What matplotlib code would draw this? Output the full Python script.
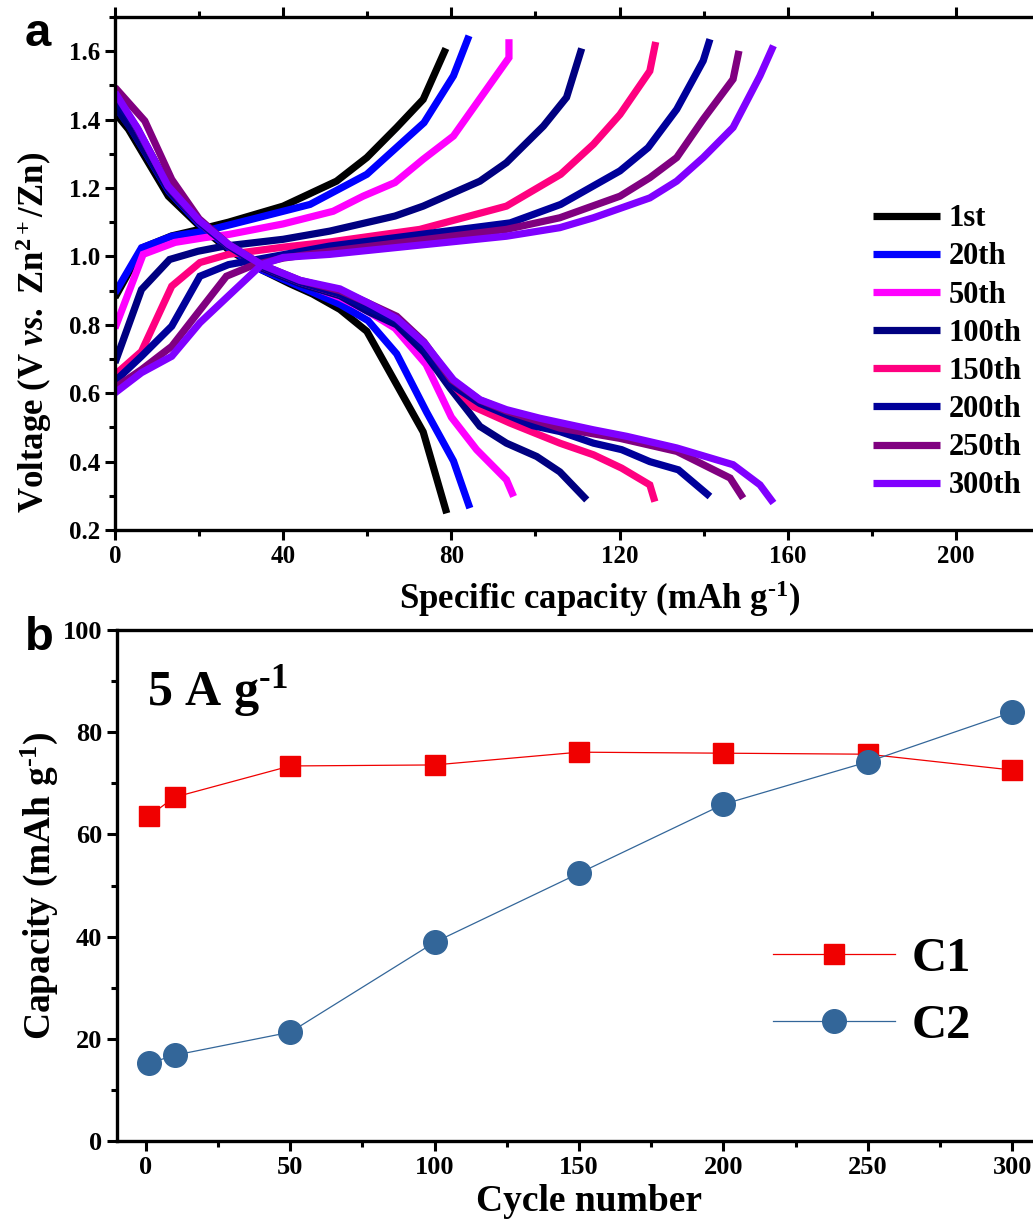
import numpy as np
import matplotlib
matplotlib.use('Agg')
import matplotlib.pyplot as plt
from matplotlib.ticker import MultipleLocator

plt.rcParams['font.family'] = ['Liberation Serif', 'DejaVu Serif']
plt.rcParams['font.weight'] = 'bold'
plt.rcParams['axes.labelweight'] = 'bold'
plt.rcParams['mathtext.fontset'] = 'custom'
plt.rcParams['mathtext.rm'] = 'Liberation Serif:bold'
plt.rcParams['mathtext.it'] = 'Liberation Serif:italic:bold'
plt.rcParams['mathtext.bf'] = 'Liberation Serif:bold'

# ---- panel a: charge / discharge curves ----
cycles = ['1st', '20th', '50th', '100th', '150th', '200th', '250th', '300th']
colors = ['#000000', '#0000ff', '#ff00ff', '#000080', '#ff0080', '#00009a', '#800080', '#8000ff']

cap_1st_chg = [0, 6.5, 13.5, 20.5, 27, 40, 52.7, 59.9, 67, 73.3, 78.7]
v_1st_chg = [0.88, 1.025, 1.06, 1.08, 1.1, 1.147, 1.22, 1.289, 1.377, 1.459, 1.608]
cap_1st_dis = [0, 3.2, 12.7, 20, 27, 35, 41.6, 47, 53.5, 59.9, 73.3, 78.9]
v_1st_dis = [1.42, 1.372, 1.176, 1.09, 1.02, 0.96, 0.92, 0.89, 0.845, 0.781, 0.487, 0.249]

cap_20th_chg = [0, 6.3, 13.5, 21.4, 33, 46.4, 59.9, 73.5, 80.5, 84.2]
v_20th_chg = [0.893, 1.025, 1.059, 1.074, 1.11, 1.152, 1.24, 1.391, 1.528, 1.645]
cap_20th_dis = [0, 3.5, 12.8, 20, 27, 35, 41.6, 53.5, 60.2, 67, 74.1, 80.5, 84.4]
v_20th_dis = [1.44, 1.38, 1.19, 1.095, 1.025, 0.96, 0.925, 0.86, 0.812, 0.715, 0.545, 0.402, 0.264]

cap_50th_chg = [0, 6.7, 14.3, 21.4, 27, 40, 51.9, 59, 66.6, 73.3, 80.5, 93.7, 93.7]
v_50th_chg = [0.79, 1.006, 1.041, 1.055, 1.064, 1.095, 1.132, 1.176, 1.216, 1.284, 1.352, 1.581, 1.635]
cap_50th_dis = [0, 4, 13, 20, 27, 35, 44, 53.5, 60, 66.6, 74, 80, 86, 93.1, 94.8]
v_50th_dis = [1.46, 1.39, 1.2, 1.1, 1.03, 0.965, 0.925, 0.88, 0.84, 0.79, 0.684, 0.53, 0.435, 0.347, 0.298]

cap_100th_chg = [0, 6.3, 13, 19.7, 26, 40, 51.1, 66.6, 73.3, 86.8, 93.1, 101.9, 107.4, 111]
v_100th_chg = [0.689, 0.903, 0.991, 1.015, 1.03, 1.05, 1.074, 1.118, 1.147, 1.22, 1.274, 1.381, 1.465, 1.608]
cap_100th_dis = [0, 4, 13, 20, 27, 35, 44, 53.5, 60, 67, 73.5, 79.7, 86.8, 93.1, 100.3, 105.8, 112.2]
v_100th_dis = [1.44, 1.37, 1.19, 1.1, 1.03, 0.965, 0.92, 0.885, 0.84, 0.8, 0.72, 0.615, 0.503, 0.454, 0.415, 0.37, 0.288]

cap_150th_chg = [0, 6.3, 13.5, 20.2, 27, 40, 51, 72.5, 93.1, 106, 113.8, 120.1, 127.2, 128.6]
v_150th_chg = [0.654, 0.722, 0.913, 0.982, 1.006, 1.027, 1.042, 1.079, 1.147, 1.24, 1.328, 1.415, 1.542, 1.627]
cap_150th_dis = [0, 5, 13, 20, 27, 35, 44, 53.5, 60, 67, 73.5, 80, 85.2, 93.9, 105.8, 113.8, 120.5, 127.2, 128.4]
v_150th_dis = [1.47, 1.38, 1.2, 1.1, 1.03, 0.97, 0.925, 0.89, 0.855, 0.82, 0.74, 0.63, 0.561, 0.513, 0.454, 0.42, 0.381, 0.332, 0.283]

cap_200th_chg = [0, 6.3, 13.5, 20.2, 27, 40, 51, 70, 94, 106, 120.1, 126.8, 133.6, 139.9, 141.5]
v_200th_chg = [0.635, 0.708, 0.796, 0.942, 0.976, 1.005, 1.03, 1.06, 1.098, 1.152, 1.25, 1.318, 1.43, 1.572, 1.635]
cap_200th_dis = [0, 5, 13, 20, 27, 35, 44, 53.5, 60, 67, 73.5, 80, 86.8, 99.4, 105.8, 113.8, 120.5, 127.2, 134, 141.5]
v_200th_dis = [1.46, 1.38, 1.2, 1.1, 1.03, 0.97, 0.925, 0.89, 0.85, 0.815, 0.735, 0.625, 0.57, 0.505, 0.488, 0.454, 0.435, 0.40, 0.376, 0.298]

cap_250th_chg = [0, 6.3, 13.5, 19.7, 26.5, 33, 40, 51.1, 93.1, 105.8, 120.1, 127.2, 133.6, 139.9, 147, 148.4]
v_250th_chg = [0.616, 0.669, 0.737, 0.835, 0.942, 0.975, 0.995, 1.015, 1.079, 1.113, 1.176, 1.23, 1.289, 1.401, 1.518, 1.601]
cap_250th_dis = [0, 7.1, 13.5, 20, 27, 35, 44, 53.5, 60, 67, 73.5, 80, 86.8, 93.1, 105.8, 120.1, 133.6, 146.3, 149.4]
v_250th_dis = [1.494, 1.396, 1.225, 1.11, 1.035, 0.975, 0.93, 0.9, 0.865, 0.825, 0.75, 0.64, 0.58, 0.548, 0.498, 0.468, 0.43, 0.352, 0.293]

cap_300th_chg = [0, 6.3, 13.5, 20.2, 27.8, 34.9, 40, 51.1, 93.1, 105.8, 113.8, 127.2, 133.6, 139.9, 147, 153.4, 156.6]
v_300th_chg = [0.601, 0.66, 0.708, 0.806, 0.894, 0.976, 0.997, 1.006, 1.059, 1.084, 1.113, 1.171, 1.22, 1.289, 1.377, 1.528, 1.616]
cap_300th_dis = [0, 5.5, 12.6, 20, 27, 35, 44, 53.5, 60, 67, 73.7, 80.5, 86.8, 93.1, 101, 113.8, 121.7, 133.6, 147, 153.4, 156.6]
v_300th_dis = [1.479, 1.372, 1.206, 1.105, 1.035, 0.975, 0.93, 0.905, 0.865, 0.818, 0.745, 0.639, 0.581, 0.552, 0.527, 0.493, 0.474, 0.44, 0.391, 0.332, 0.279]

charge = [(cap_1st_chg, v_1st_chg), (cap_20th_chg, v_20th_chg), (cap_50th_chg, v_50th_chg),
          (cap_100th_chg, v_100th_chg), (cap_150th_chg, v_150th_chg), (cap_200th_chg, v_200th_chg),
          (cap_250th_chg, v_250th_chg), (cap_300th_chg, v_300th_chg)]
discharge = [(cap_1st_dis, v_1st_dis), (cap_20th_dis, v_20th_dis), (cap_50th_dis, v_50th_dis),
             (cap_100th_dis, v_100th_dis), (cap_150th_dis, v_150th_dis), (cap_200th_dis, v_200th_dis),
             (cap_250th_dis, v_250th_dis), (cap_300th_dis, v_300th_dis)]

# ---- panel b: cycling ----
cycle_no = [1, 10, 50, 100, 150, 200, 250, 300]
cap_C1 = [63.6, 67.3, 73.4, 73.6, 76.1, 75.9, 75.7, 72.6]
cap_C2 = [15.2, 16.8, 21.3, 38.9, 52.4, 65.9, 74.2, 83.9]

fig = plt.figure(figsize=(10.33, 12.21), dpi=100)

ax1 = fig.add_axes([0.1113, 0.5659, 0.8955, 0.4202])
for i in range(len(cycles)):
    ax1.plot(charge[i][0], charge[i][1], color=colors[i], lw=5.2, solid_capstyle='butt',
             solid_joinstyle='miter', label=cycles[i])
    ax1.plot(discharge[i][0], discharge[i][1], color=colors[i], lw=5.2, solid_capstyle='butt',
             solid_joinstyle='miter')
ax1.set_xlim(0, 220)
ax1.set_ylim(0.2, 1.7)
ax1.xaxis.set_major_locator(MultipleLocator(40))
ax1.xaxis.set_minor_locator(MultipleLocator(20))
ax1.set_yticks(np.arange(0.2, 1.61, 0.2))
ax1.yaxis.set_minor_locator(MultipleLocator(0.1))
ax1.tick_params(which='both', direction='out', width=2.2, labelsize=18, top=True)
ax1.tick_params(which='major', length=7)
ax1.tick_params(which='minor', length=4)
for s in ax1.spines.values():
    s.set_linewidth(2.4)
ax1.set_xlabel('Specific capacity (mAh g$^{\\text{-}1}$)', fontsize=25)
ax1.set_ylabel('Voltage (V $\\mathit{vs.}$ Zn$^{2+}$/Zn)', fontsize=25)
ax1.xaxis.set_label_coords(0.524, -0.095)
ax1.yaxis.set_label_coords(-0.066, 0.385)
ax1.legend(loc='upper left', bbox_to_anchor=(0.8195, 0.635), frameon=False,
           fontsize=22, handlelength=2.2, handletextpad=0.27, labelspacing=0.3,
           borderpad=0, borderaxespad=0)
fig.text(0.024, 0.962, 'a', fontsize=34, fontweight='bold', family='Liberation Sans')

ax2 = fig.add_axes([0.1133, 0.0655, 0.8945, 0.4185])
ax2.plot(cycle_no, cap_C1, color='#f00000', lw=0.9, marker='s', ms=15, mec='#f00000', label='C1')
ax2.plot(cycle_no, cap_C2, color='#336699', lw=0.9, marker='o', ms=17, mec='#336699', label='C2')
ax2.set_xlim(-10, 310)
ax2.set_ylim(0, 100)
ax2.xaxis.set_major_locator(MultipleLocator(50))
ax2.xaxis.set_minor_locator(MultipleLocator(25))
ax2.yaxis.set_major_locator(MultipleLocator(20))
ax2.yaxis.set_minor_locator(MultipleLocator(10))
ax2.tick_params(which='both', direction='out', width=2.2, labelsize=19)
ax2.tick_params(which='major', length=7)
ax2.tick_params(which='minor', length=4)
for s in ax2.spines.values():
    s.set_linewidth(2.4)
ax2.set_xlabel('Cycle number', fontsize=27)
ax2.set_ylabel('Capacity (mAh g$^{\\text{-}1}$)', fontsize=27)
ax2.xaxis.set_label_coords(0.511, -0.085)
ax2.yaxis.set_label_coords(-0.062, 0.5)
ax2.text(0.032, 0.853, '5 A g$^{\\text{-}1}$', transform=ax2.transAxes, fontsize=36)
ax2.legend(loc='upper left', bbox_to_anchor=(0.71, 0.40), frameon=False, fontsize=35,
           handlelength=2.5, handletextpad=0.35, labelspacing=0.47, borderpad=0, borderaxespad=0)
fig.text(0.024, 0.468, 'b', fontsize=34, fontweight='bold', family='Liberation Sans')

plt.savefig('out.png', dpi=100)
